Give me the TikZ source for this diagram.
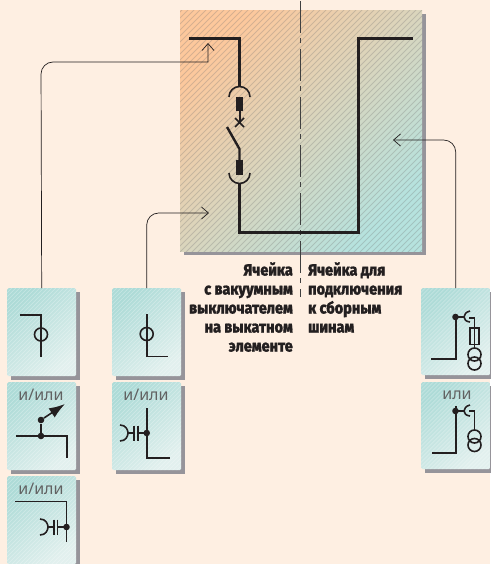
\documentclass[tikz,border=0pt]{standalone}
\usepackage{fontspec}
\setmainfont{Fira Sans}
\newfontfamily\boldcond[FakeStretch=0.88,FakeBold=1]{Fira Sans ExtraBold}
\newfontfamily\lbl{Noto Sans}
\usetikzlibrary{arrows.meta}
\definecolor{pagebg}{HTML}{FEEFE2}
\definecolor{ink}{HTML}{231F20}
\definecolor{shadec}{HTML}{96949A}
\definecolor{orangec}{HTML}{FDC89C}
\definecolor{tealc}{HTML}{B6E2DE}
\definecolor{boxa}{HTML}{ADDBD7}
\definecolor{boxb}{HTML}{E2F0EE}
\tikzset{
  x=1pt,y=-1pt,
  hatchpanel/.style={path picture={
    \foreach \k in {-300,-294,...,300}
      \draw[black!55,opacity=.28,line width=.9pt]
       ([xshift=\k*1pt-300pt,yshift=-300pt]path picture bounding box.center) -- ++(600pt,600pt);}},
  hatchcell/.style={path picture={
    \foreach \k in {-150,-146,...,150}
      \draw[white,opacity=.28,line width=.8pt]
       ([xshift=\k*1pt-150pt,yshift=-150pt]path picture bounding box.center) -- ++(300pt,300pt);}},
  panelbox/.style={anchor=north west,inner sep=0pt,minimum width=242pt,minimum height=241pt,
    shading=axis,left color=orangec,right color=tealc,shading angle=45,hatchpanel},
  cellbox/.style={anchor=north west,inner sep=0pt,minimum width=69pt,minimum height=88pt,rounded corners=1.5pt,
    shading=axis,left color=boxa,right color=boxb,shading angle=40,hatchcell},
  bus/.style={draw=ink,line width=3pt,line join=miter},
  wire/.style={draw=ink,line width=1.6pt},
  centreline/.style={draw=black!75,line width=1pt,dash pattern=on 32pt off 5pt on 5pt off 6pt},
  conn/.style={draw=ink,line width=.7pt,-{Straight Barb[length=7pt,width=12pt,line width=.7pt]}},
  dotn/.style={circle,fill=ink,inner sep=0pt,minimum size=6.6pt},
  orlabel/.style={font=\lbl\fontsize{16}{16}\selectfont,text=black!62},
  captxt/.style={font=\boldcond\fontsize{16.5}{19}\selectfont,text=ink,inner sep=0pt},
}
\newcommand{\capac}[4]{% x_arcleft, y, plate x1, plate x2
  \draw[wire] (#1,#2-8) .. controls (#1+6,#2-8) and (#1+8,#2-3) .. (#1+8,#2)
              .. controls (#1+8,#2+3) and (#1+6,#2+8) .. (#1,#2+8);
  \draw[wire] (#1+8,#2) -- (#3,#2);
  \draw[wire] (#3,#2-7.5) -- (#3,#2+7.5);
  \draw[wire] (#4,#2-7.5) -- (#4,#2+7.5);
}
\begin{document}
\begin{tikzpicture}
\useasboundingbox (0,0) rectangle (490,564);
\fill[pagebg] (0,0) rectangle (490,564);
% shadows
\fill[shadec] (184,14) rectangle (426,255);
\foreach \xx/\yy/\hh in {7/288/88,7/382/88,7/476/88,112/288/88,112/382/88,421/288/87,421/382/87}
  \fill[shadec] (\xx+4,\yy+4) rectangle (\xx+73,\yy+\hh+4);
% panel and cells
\node[panelbox] (panel) at (180,10) {};
\node[cellbox] (a1) at (7,288) {};
\node[cellbox] (a2) at (7,382) {};
\node[cellbox] (a3) at (7,476) {};
\node[cellbox] (b1) at (112,288) {};
\node[cellbox] (b2) at (112,382) {};
\node[cellbox,minimum height=87pt] (c1) at (421,288) {};
\node[cellbox,minimum height=87pt] (c2) at (421,382) {};
% centre line
\draw[centreline] (300.7,1) coordinate (ctop) -- (300.7,297) coordinate (cbot);
% main circuit
\coordinate (busl) at (189,39);
\coordinate (busr) at (412.7,39);
\draw[bus] (busl) -- (239.5,39) -- (239.5,87);
\draw[wire] (229,97) arc[start angle=180,end angle=360,radius=10.5];
\fill[ink] (235.7,97) rectangle (243.3,111);
\draw[wire,line width=2pt] (239.5,111) -- (239.5,122);
\draw[wire] (235,118) -- (244,127) (244,118) -- (235,127);
\draw[wire,line width=2.4pt] (227,127) -- (239.5,149) -- (239.5,160);
\fill[ink] (235.7,160) rectangle (243.3,175);
\draw[wire] (229,173) arc[start angle=180,end angle=0,radius=10.5];
\draw[bus] (239.5,184) -- (239.5,232.7) -- (358,232.7) -- (358,39) -- (busr);
% connectors
\coordinate (ta) at (208,43);
\coordinate (tb) at (209,213);
\coordinate (tc) at (393,140);
\draw[conn,rounded corners=12pt] (a1.north) -- (41,62) [sharp corners] -- (208,62) -- (ta);
\draw[conn,rounded corners=12pt] (b1.north) |- (tb);
\draw[conn,rounded corners=12pt] (c1.north) |- (tc);
% captions
\node[captxt,align=right,anchor=north east] (capl) at (293,262) {Ячейка\\с вакуумным\\выключателем\\на выкатном\\элементе};
\node[captxt,align=left,anchor=north west] (capr) at (308,262) {Ячейка для\\подключения\\к сборным\\шинам};
% labels
\node[orlabel] (la2) at (41,395) {и/или};
\node[orlabel] (lb2) at (146,395) {и/или};
\node[orlabel] (la3) at (41,489) {и/или};
\node[orlabel] (lc2) at (457,395) {или};
% a1
\draw[wire] (20,314.7) -- (41,314.7) -- (41,357);
\draw[wire] (41,334.5) circle[radius=6.5];
% b1
\draw[wire] (146.7,314) -- (146.7,356.5) -- (168,356.5);
\draw[wire] (146.7,334) circle[radius=6.5];
% a2
\draw[wire] (16,436) -- (66.7,436) -- (66.7,458);
\node[dotn] (a2d) at (41,436) {};
\node[dotn] (a2u) at (41,420) {};
\coordinate (a2t) at (65,404);
\draw[wire] (a2d) -- (a2u);
\draw[wire,-{Latex[length=16pt,width=11pt]}] (a2u) -- (a2t);
% a3
\draw[wire] (15,501.5) -- (66.5,501.5) -- (66.5,542);
\capac{40}{527}{54}{57.5}
\draw[wire] (57.5,527) -- (66.5,527);
\node[dotn] at (66.5,527) {};
% b2
\draw[wire] (146.7,408) -- (146.7,458) -- (170,458);
\capac{120}{433}{134}{138}
\draw[wire] (138,433) -- (146.7,433);
\node[dotn] at (146.7,433) {};
% c1
\draw[wire] (431,359) -- (456,359) -- (456,315);
\node[dotn] at (455.5,317) {};
\draw[wire] (455.5,317) -- (464,317);
\draw[wire] (470,311) .. controls (466,312) and (464,314.5) .. (464,317) .. controls (464,319.5) and (466,321.5) .. (470,322);
\draw[wire] (469,318) -- (474.5,318) -- (474.5,348);
\draw[wire] (470,327.7) rectangle (479,344.3);
\draw[wire] (474.5,354.5) circle[radius=6.5];
\draw[wire] (474.5,363.5) circle[radius=6.5];
% c2
\draw[wire] (432,453) -- (456,453) -- (456,406);
\node[dotn] at (455.5,411) {};
\draw[wire] (455.5,411) -- (464,411);
\draw[wire] (470,405) .. controls (466,406) and (464,408.5) .. (464,411) .. controls (464,413.5) and (466,415.5) .. (470,416);
\draw[wire] (469,411) -- (474.5,411) -- (474.5,430);
\draw[wire] (474.5,436.5) circle[radius=6.5];
\draw[wire] (474.5,445) circle[radius=6.5];
\end{tikzpicture}
\end{document}
